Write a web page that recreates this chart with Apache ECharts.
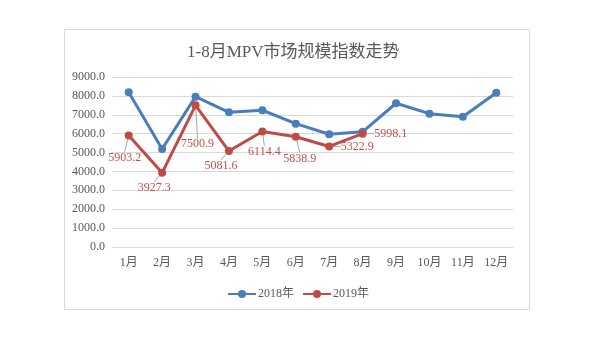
<!DOCTYPE html>
<html>
<head>
<meta charset="utf-8">
<script src="https://cdn.jsdelivr.net/npm/echarts@6/dist/echarts.min.js"></script>
<style>html,body{margin:0;padding:0;background:#fff;}#c{width:600px;height:338px;}</style>
</head>
<body>
<div id="c"></div>
<script>
var titleText = '1-8月MPV市场规模指数走势';
var categories = ['1月','2月','3月','4月','5月','6月','7月','8月','9月','10月','11月','12月'];
var series2018Name = '2018年';
var series2019Name = '2019年';
var values2018 = [8190, 5190, 7960, 7130, 7240, 6530, 5970, 6100, 7610, 7060, 6900, 8170];
var values2019 = [5903.2, 3927.3, 7500.9, 5081.6, 6114.4, 5838.9, 5322.9, 5998.1];
var yTicks = [0, 1000, 2000, 3000, 4000, 5000, 6000, 7000, 8000, 9000];

// label placement (layout only)
var labelOffsets = [[-4,22],[-8,15],[2,39],[-8,15],[2,20],[4,22],[28,0],[28,0]];

var serif = "'Liberation Serif','Noto Sans CJK SC',serif";
var chart = echarts.init(document.getElementById('c'), null, {renderer:'canvas'});
chart.setOption({
  backgroundColor: '#ffffff',
  animation: false,
  graphic: [{
    type: 'rect', left: 62, top: 27,
    shape: {width: 465, height: 280},
    style: {fill: 'none', stroke: '#d9d9d9', lineWidth: 1}, z: -1
  }],
  title: {
    text: titleText, left: 182, top: 39,
    textStyle: {fontFamily: serif, fontSize: 17, fontWeight: 'normal', color: '#595959'}
  },
  grid: {left: 112, right: 87, top: 77, bottom: 91},
  legend: {
    left: 222, top: 283, itemWidth: 28, itemHeight: 10, itemGap: 8,
    data: [series2018Name, series2019Name],
    textStyle: {fontFamily: serif, fontSize: 12, color: '#595959', padding: [0,0,0,-3]}
  },
  xAxis: {
    type: 'category', data: categories, boundaryGap: true,
    axisLine: {lineStyle: {color: '#d9d9d9'}},
    axisTick: {show: false},
    axisLabel: {fontFamily: serif, fontSize: 12, color: '#595959', margin: 10}
  },
  yAxis: {
    type: 'value', min: yTicks[0], max: yTicks[yTicks.length-1], interval: 1000,
    axisLine: {show: false}, axisTick: {show: false},
    splitLine: {lineStyle: {color: '#d9d9d9'}},
    axisLabel: {fontFamily: serif, fontSize: 12, color: '#595959', margin: 7,
      formatter: function(v){ return v.toFixed(1); }}
  },
  series: [{
    name: series2018Name, type: 'line', data: values2018,
    symbol: 'circle', symbolSize: 8,
    lineStyle: {width: 3, color: '#4a7ebb'},
    itemStyle: {color: '#4a7ebb'}
  }, {
    name: series2019Name, type: 'line', data: values2019,
    symbol: 'circle', symbolSize: 8,
    lineStyle: {width: 3, color: '#be4b48'},
    itemStyle: {color: '#be4b48'},
    label: {
      show: true, position: 'inside',
      fontFamily: serif, fontSize: 12, color: '#c0504d',
      formatter: function(p){ return p.value.toFixed(1); }
    },
    labelLine: {show: true, lineStyle: {color: '#a6a6a6', width: 1}},
    labelLayout: function(p){
      var o = labelOffsets[p.dataIndex] || [0,0];
      return {dx: o[0], dy: o[1]};
    },
    z: 3
  }]
});
</script>
</body>
</html>
